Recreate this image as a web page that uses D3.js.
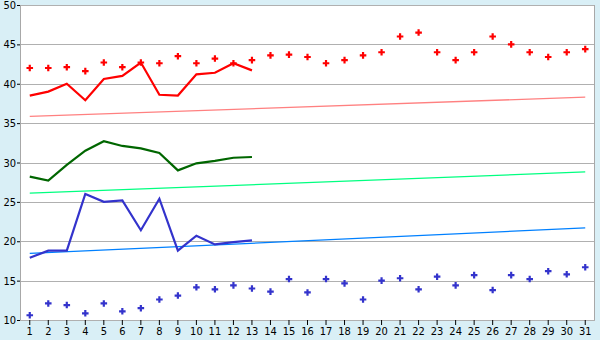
<!DOCTYPE html>
<html>
<head>
<meta charset="utf-8">
<script src="https://cdn.jsdelivr.net/npm/d3@7"></script>
<style>
  body { margin: 0; background: #d9eff6; }
  svg { display: block; }
  .tick text { font-family: "DejaVu Sans Condensed", "DejaVu Sans", sans-serif; font-size: 11px; fill: #000; }
</style>
</head>
<body>
<div id="chart"></div>
<script>
// ---- data ----
const days = d3.range(1, 32)   // tick labels 1..31
const yTicks = [10, 15, 20, 25, 30, 35, 40, 45, 50]

const redPoints = [42.0, 42.0, 42.1, 41.6, 42.7, 42.1, 42.7, 42.6, 43.5, 42.6,
                   43.2, 42.6, 43.0, 43.6, 43.7, 43.4, 42.6, 43.0, 43.6, 44.0,
                   46.0, 46.5, 44.0, 43.0, 44.0, 46.0, 45.0, 44.0, 43.4, 44.0, 44.4]
const bluePoints = [10.6, 12.1, 11.9, 10.85, 12.1, 11.1, 11.5, 12.6, 13.1, 14.15,
                    13.9, 14.4, 14.0, 13.6, 15.2, 13.5, 15.2, 14.65, 12.6, 15.0,
                    15.3, 13.9, 15.5, 14.4, 15.7, 13.8, 15.7, 15.2, 16.2, 15.8, 16.7]

const redLine = [38.5, 39.0, 40.0, 37.9, 40.6, 41.0, 42.7, 38.6, 38.5, 41.2, 41.4, 42.6, 41.7]
const greenLine = [28.2, 27.7, 29.7, 31.5, 32.7, 32.1, 31.8, 31.2, 29.0, 29.9, 30.2, 30.6, 30.7]
const blueLine = [17.9, 18.8, 18.8, 26.0, 25.0, 25.2, 21.4, 25.4, 18.8, 20.7, 19.6, 19.9, 20.1]

// trend lines: [value at day 1, value at day 31]
const redTrend = [35.85, 38.3]
const greenTrend = [26.1, 28.8]
const blueTrend = [18.45, 21.7]

const width = 600, height = 340
const margin = {top: 5, right: 5, bottom: 20, left: 20}

const svg = d3.select('#chart').append('svg')
    .attr('width', width)
    .attr('height', height)

const x = d3.scaleBand()
    .domain(days)
    .range([margin.left + 0.5, width - margin.right - 0.5])

const y = d3.scaleLinear()
    .domain([10, 50])
    .range([height - margin.bottom, margin.top])

const cx = d => x(d) + x.bandwidth() / 2

// plot background
svg.append('rect')
    .attr('x', margin.left)
    .attr('y', margin.top)
    .attr('width', width - margin.left - margin.right)
    .attr('height', height - margin.top - margin.bottom)
    .attr('fill', '#fff')

// grid lines
svg.append('g')
    .selectAll('line')
    .data(yTicks)
    .join('line')
    .attr('x1', margin.left)
    .attr('x2', width - margin.right)
    .attr('y1', d => Math.round(y(d)) + 0.5)
    .attr('y2', d => Math.round(y(d)) + 0.5)
    .attr('stroke', '#b0b0b0')

// left and right border
svg.append('line')
    .attr('x1', margin.left + 0.5).attr('x2', margin.left + 0.5)
    .attr('y1', margin.top).attr('y2', height - margin.bottom)
    .attr('stroke', '#a8a8a8')
svg.append('line')
    .attr('x1', width - margin.right - 0.5).attr('x2', width - margin.right - 0.5)
    .attr('y1', margin.top).attr('y2', height - margin.bottom)
    .attr('stroke', '#a8a8a8')

// axes
const yAxis = d3.axisLeft(y).tickValues(yTicks).tickSize(3).tickPadding(1)
const gy = svg.append('g')
    .attr('transform', `translate(${margin.left},0)`)
    .call(yAxis)
gy.select('.domain').remove()
gy.selectAll('.tick line').attr('stroke', '#000')

const xAxis = d3.axisBottom(x).tickSize(5).tickPadding(2)
const gx = svg.append('g')
    .attr('transform', `translate(0,${height - margin.bottom})`)
    .call(xAxis)
gx.select('.domain').remove()
gx.selectAll('.tick line').attr('stroke', '#000')

// trend lines
const trends = [
    {v: redTrend, color: '#ff8080'},
    {v: greenTrend, color: '#00ff80'},
    {v: blueTrend, color: '#0080ff'}
]
svg.append('g')
    .selectAll('line')
    .data(trends)
    .join('line')
    .attr('x1', cx(1))
    .attr('x2', cx(31))
    .attr('y1', d => y(d.v[0]))
    .attr('y2', d => y(d.v[1]))
    .attr('stroke', d => d.color)
    .attr('stroke-width', 1.3)

// data lines
const line = d3.line()
    .x((d, i) => cx(days[i]))
    .y(d => y(d))

const lines = [
    {v: redLine, color: '#ff0000'},
    {v: greenLine, color: '#006600'},
    {v: blueLine, color: '#3333cc'}
]
svg.append('g')
    .selectAll('path')
    .data(lines)
    .join('path')
    .attr('d', d => line(d.v))
    .attr('fill', 'none')
    .attr('stroke', d => d.color)
    .attr('stroke-width', 2.2)

// markers
const cross = d3.symbol().type(d3.symbolCross).size(24)
const markers = [
    {v: redPoints, color: '#ff0000'},
    {v: bluePoints, color: '#3333cc'}
]
markers.forEach(m => {
    svg.append('g')
        .selectAll('path')
        .data(m.v)
        .join('path')
        .attr('d', cross)
        .attr('transform', (d, i) => `translate(${cx(days[i])},${y(d)})`)
        .attr('fill', m.color)
})
</script>
</body>
</html>
